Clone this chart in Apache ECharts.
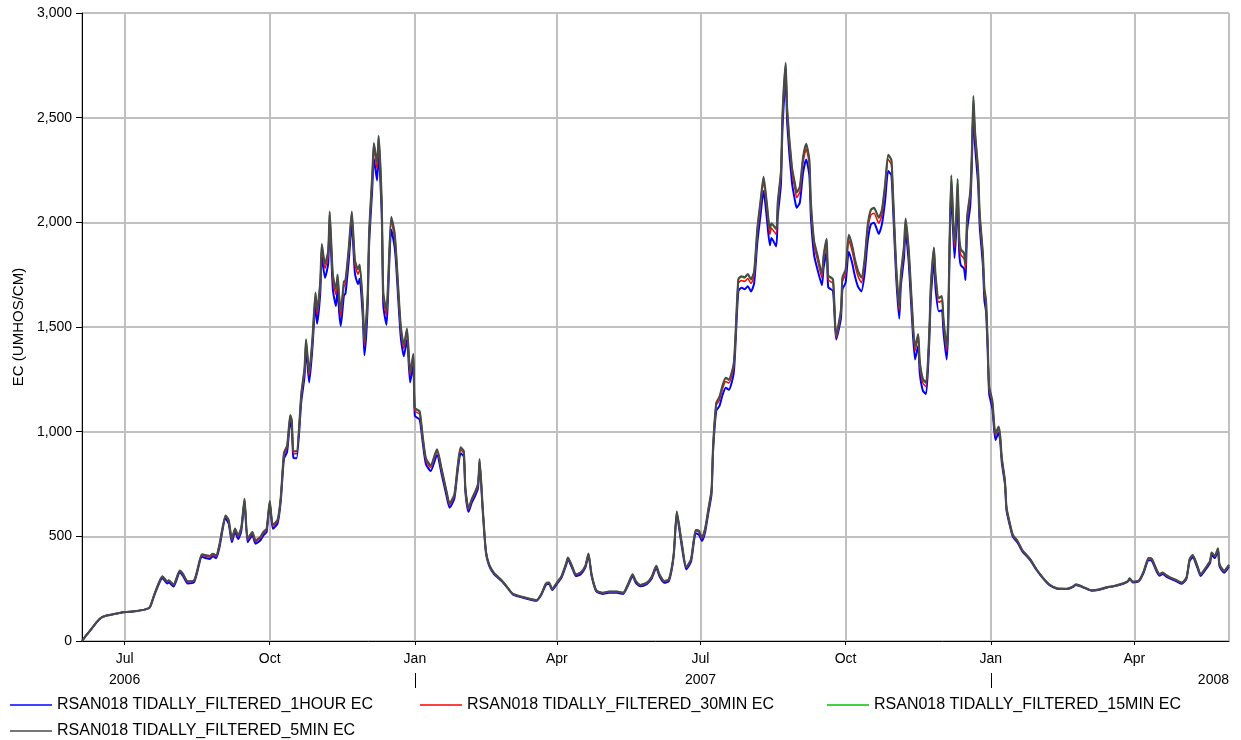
<!DOCTYPE html>
<html><head><meta charset="utf-8">
<script src="https://cdn.jsdelivr.net/npm/echarts@6/dist/echarts.min.js"></script>
<style>html,body{margin:0;padding:0;background:#fff}#c{width:1241px;height:740px}</style>
</head><body><div id="c"></div>
<script>
// ---- data ----
const dataStart = '2006-06-04';      // day 0 of dayOffsets
const axisStart = '2006-06-04';
const axisEnd = '2008-05-31';
const seriesNames = [
  'RSAN018 TIDALLY_FILTERED_1HOUR EC',
  'RSAN018 TIDALLY_FILTERED_30MIN EC',
  'RSAN018 TIDALLY_FILTERED_15MIN EC',
  'RSAN018 TIDALLY_FILTERED_5MIN EC'
];
const monthNames = ['Jan','Feb','Mar','Apr','May','Jun','Jul','Aug','Sep','Oct','Nov','Dec'];
const yearsUnderJuly = [2006, 2007];
const lastYearLabel = '2008';
const yearBoundaries = ['2007-01-01', '2008-01-01'];
const yAxisName = 'EC (UMHOS/CM)';

const dayOffsets = [
0,3,6,9,12,15,19,23,27,34,
40,43,46,51,54,55,58,62,64,67,
71,73,76,79,81,83,85,87,91,93,
95,97,99,101,103,105,108,110,113,115,
117,119,121,124,126,128,130,132,133,134,
136,139,141,142,144,146,148,149,151,152,
154,156,157,159,161,162,163,164,166,167,
169,171,173,175,176,178,179,181,182,184,
185,187,188,190,191,193,194,196,198,199,
202,204,206,208,210,211,214,216,218,221,
225,228,231,233,236,238,240,242,243,245,
247,249,251,252,254,256,258,261,266,269,
273,279,285,288,291,294,296,298,301,304,
307,308,311,313,316,319,321,323,326,330,
334,339,343,346,349,351,354,358,361,364,
366,369,372,375,377,380,383,386,389,391,
393,395,397,399,400,402,404,406,408,410,
413,414,416,418,420,422,424,426,428,430,
432,434,436,437,440,441,443,444,446,447,
450,452,453,455,457,459,461,462,464,466,
469,470,472,473,476,478,481,482,484,486,
488,490,492,494,496,498,500,502,505,507,
509,511,513,514,516,518,519,521,522,524,
526,528,530,531,533,535,537,538,540,541,
543,545,546,548,549,550,551,553,554,555,
556,557,559,560,561,563,564,565,566,568,
569,571,572,573,574,575,577,579,581,582,
583,585,586,588,590,593,596,601,605,609,
613,618,624,628,630,634,640,645,650,654,
660,663,664,666,670,673,676,678,681,683,
685,687,690,694,697,700,702,704,707,709,
713,715,716,718,720,721,724,725,727
];

const ec5min = [
0,30,58,88,111,121,127,133,138,143,
151,162,226,309,285,290,270,337,321,285,
290,337,414,409,406,417,409,457,600,577,
489,537,505,545,680,489,521,481,497,521,
537,669,555,580,690,899,933,1080,1054,907,
907,1183,1303,1441,1286,1441,1665,1579,1717,1897,
1803,1863,2052,1751,1682,1751,1648,1579,1717,1725,
1872,2052,1820,1777,1799,1613,1433,1648,1958,2233,
2379,2285,2414,2095,1665,1579,1717,2027,1958,1872,
1510,1415,1493,1286,1372,1114,1097,976,873,839,
916,821,718,658,701,830,925,907,734,635,
678,710,750,869,638,431,367,327,290,263,
226,211,199,195,223,274,279,250,279,311,
375,399,351,319,327,359,418,319,242,231,
236,236,231,271,319,287,268,279,306,359,
319,287,295,415,619,478,354,391,530,527,
495,540,631,723,935,1138,1166,1221,1258,1249,
1323,1434,1729,1743,1738,1753,1729,1766,1969,2098,
2218,2098,1969,1996,1969,2098,2245,2522,2762,2541,
2264,2181,2144,2172,2310,2375,2301,2098,1913,1849,
1756,1839,1922,1747,1729,1461,1581,1738,1775,1941,
1895,1821,1766,1738,1821,1987,2061,2070,2024,2061,
2181,2323,2300,2150,1803,1598,1751,1889,2018,1872,
1613,1406,1467,1338,1252,1235,1476,1700,1880,1751,
1639,1648,1544,1406,1544,1958,2225,1906,2009,2207,
1940,1872,1854,1803,2027,2147,2336,2603,2440,2250,
2044,1854,1682,1630,1441,1217,1148,990,1025,980,
877,766,638,566,507,478,434,391,343,303,
271,252,250,260,271,260,242,247,258,263,
276,287,300,284,290,335,396,394,343,319,
327,316,303,290,279,303,391,411,359,319,
359,383,423,407,443,367,335,343,364
];

const ec15min = [
0,30,58,88,111,121,127,133,138,143,
151,162,226,309,285,290,270,337,321,285,
290,337,414,409,406,417,409,457,600,577,
489,537,505,545,680,489,521,481,497,521,
537,669,555,580,690,899,933,1078,1052,905,
905,1181,1300,1438,1283,1438,1661,1575,1713,1893,
1799,1859,2048,1747,1678,1747,1644,1575,1713,1721,
1868,2048,1816,1773,1795,1609,1429,1644,1954,2229,
2375,2281,2410,2091,1661,1575,1713,2023,1954,1868,
1506,1411,1489,1282,1368,1111,1094,974,871,837,
914,819,716,656,699,828,923,905,732,634,
677,709,749,868,637,431,367,327,290,263,
226,211,199,195,223,274,279,250,279,311,
375,399,351,319,327,359,418,319,242,231,
236,236,231,271,319,287,268,279,306,359,
319,287,295,415,619,478,354,391,530,527,
495,540,631,722,933,1135,1163,1218,1255,1246,
1320,1431,1725,1739,1734,1749,1725,1762,1965,2094,
2214,2094,1965,1992,1965,2094,2241,2518,2758,2537,
2260,2177,2140,2168,2306,2371,2297,2094,1909,1845,
1752,1835,1918,1743,1725,1458,1578,1734,1771,1937,
1891,1817,1762,1734,1817,1983,2057,2066,2020,2057,
2177,2319,2296,2146,1799,1594,1747,1885,2014,1868,
1609,1402,1463,1334,1248,1231,1472,1696,1876,1747,
1635,1644,1540,1402,1540,1954,2221,1902,2005,2203,
1936,1868,1850,1799,2023,2143,2332,2599,2436,2246,
2040,1850,1678,1626,1437,1214,1145,988,1023,978,
875,765,637,566,507,478,434,391,343,303,
271,252,250,260,271,260,242,247,258,263,
276,287,300,284,290,335,396,394,343,319,
327,316,303,290,279,303,391,411,359,319,
359,383,423,407,443,367,335,343,364
];

const ec30min = [
0,30,58,88,111,121,127,133,138,143,
151,161,225,306,282,287,267,334,318,282,
287,334,410,404,401,412,404,452,594,571,
483,531,499,539,674,483,515,475,491,515,
531,663,548,573,683,889,922,1066,1040,895,
895,1168,1287,1423,1268,1423,1645,1558,1696,1875,
1780,1840,2030,1725,1655,1727,1620,1550,1695,1703,
1850,2030,1797,1752,1775,1590,1410,1625,1935,2208,
2352,2255,2388,2070,1642,1555,1695,2005,1935,1850,
1490,1396,1475,1268,1355,1100,1083,964,862,829,
905,811,709,650,692,820,914,896,725,628,
671,702,742,860,631,428,365,325,289,262,
225,210,198,194,222,272,277,248,277,309,
372,396,348,316,324,356,415,316,240,229,
234,234,229,269,316,284,266,277,303,356,
316,284,292,411,613,472,350,387,525,521,
490,534,624,715,925,1125,1150,1205,1240,1232,
1305,1415,1708,1722,1717,1732,1708,1745,1945,2075,
2195,2072,1942,1972,1942,2073,2220,2495,2740,2515,
2238,2155,2118,2146,2285,2350,2275,2072,1890,1826,
1735,1817,1900,1726,1708,1448,1565,1718,1753,1915,
1868,1795,1740,1712,1797,1962,2035,2043,1996,2035,
2155,2300,2276,2126,1782,1578,1730,1866,1996,1850,
1592,1385,1448,1318,1232,1215,1457,1680,1858,1728,
1618,1625,1522,1385,1522,1935,2200,1880,1985,2182,
1912,1845,1827,1776,2002,2122,2312,2580,2415,2225,
2020,1832,1660,1610,1423,1203,1135,980,1014,970,
868,759,632,561,503,475,432,389,342,302,
270,251,249,259,270,259,241,246,257,262,
275,286,299,283,289,333,393,391,340,317,
325,314,301,288,277,301,388,408,356,317,
356,380,420,404,440,364,332,340,361
];

const ec1hour = [
0,30,58,87,110,120,126,132,137,142,
150,160,222,300,275,280,260,327,311,275,
281,328,402,395,392,405,395,443,585,560,
472,520,487,528,662,472,505,465,480,505,
520,652,536,562,670,870,903,1045,1015,875,
873,1145,1260,1395,1235,1395,1610,1515,1660,1840,
1735,1800,1995,1680,1600,1685,1570,1505,1650,1660,
1810,1990,1755,1705,1730,1545,1365,1585,1895,2165,
2305,2200,2340,2025,1600,1510,1650,1965,1890,1810,
1455,1360,1440,1235,1320,1075,1058,945,845,812,
888,795,695,637,680,805,897,880,712,617,
660,690,730,845,620,422,360,321,286,260,
223,208,196,192,219,268,273,244,272,304,
366,390,342,310,318,350,408,310,236,225,
230,230,225,264,310,278,261,272,297,349,
309,278,286,403,603,460,342,378,515,508,
478,522,612,700,905,1100,1122,1175,1210,1200,
1275,1385,1670,1688,1680,1695,1670,1708,1900,2030,
2150,2025,1890,1925,1885,2030,2180,2450,2700,2470,
2190,2100,2070,2095,2235,2300,2225,2025,1845,1780,
1700,1780,1860,1690,1672,1440,1540,1680,1712,1860,
1810,1740,1690,1670,1752,1910,1990,1998,1945,1990,
2100,2245,2225,2080,1745,1540,1695,1830,1960,1810,
1550,1345,1410,1280,1195,1180,1425,1640,1815,1685,
1575,1580,1480,1345,1485,1895,2160,1830,1945,2140,
1860,1795,1780,1725,1960,2080,2270,2540,2370,2180,
1980,1795,1625,1575,1395,1180,1110,960,995,952,
852,748,623,554,497,470,428,386,339,300,
268,250,248,258,268,258,240,245,256,261,
273,284,296,280,286,328,386,384,334,312,
320,309,297,284,273,296,381,400,349,311,
350,373,412,396,432,357,326,334,355
];

const seriesValues = [ec1hour, ec30min, ec15min, ec5min];
const seriesColors = ['#0000ff', '#ff0000', '#00c000', '#4a4a4a'];
const seriesWidths = [2, 1.5, 1.5, 2];

// ---- helpers ----
function ymd(s) { const p = s.split('-').map(Number); return new Date(p[0], p[1] - 1, p[2]).getTime(); }
const base = dataStart.split('-').map(Number);
function dayToTime(d) { return new Date(base[0], base[1] - 1, base[2] + d).getTime(); }
function pairs(vals) { return dayOffsets.map((d, i) => [dayToTime(d), vals[i]]); }

const FONT = "'Liberation Sans', Arial, sans-serif";
const chart = echarts.init(document.getElementById('c'), null, { renderer: 'canvas' });

const legendPos = [
  { left: 10, top: 697 }, { left: 420, top: 697 }, { left: 827, top: 697 }, { left: 10, top: 723 }
];

const option = {
  animation: false,
  backgroundColor: '#ffffff',
  textStyle: { fontFamily: FONT },
  grid: { left: 82, right: 12, top: 13, bottom: 99, show: true, borderColor: '#000', borderWidth: 1, outerBoundsMode: 'none', containLabel: false },
  xAxis: {
    type: 'time',
    min: ymd(axisStart), max: ymd(axisEnd),
    splitNumber: 8,
    axisLine: { lineStyle: { color: '#000', width: 1 } },
    axisTick: { show: true, length: 4, lineStyle: { color: '#000' } },
    splitLine: { show: true, lineStyle: { color: '#c0c0c0', width: 2 } },
    axisLabel: {
      showMinLabel: false, showMaxLabel: false, hideOverlap: false,
      margin: 8, color: '#000', fontSize: 14, fontFamily: FONT,
      formatter: function (v) {
        const d = new Date(v);
        if (d.getDate() !== 1 || d.getHours() !== 0) return '';
        const m = d.getMonth();
        if (m % 3 !== 0) return '';
        let s = '{m|' + monthNames[m] + '}';
        if (m === 6 && yearsUnderJuly.indexOf(d.getFullYear()) >= 0) s += '\n{y|' + d.getFullYear() + '}';
        return s;
      },
      rich: {
        m: { fontSize: 14, lineHeight: 21, color: '#000', fontFamily: FONT },
        y: { fontSize: 14, lineHeight: 21, color: '#000', fontFamily: FONT }
      }
    }
  },
  yAxis: {
    type: 'value', min: 0, max: 3000, interval: 500,
    name: yAxisName, nameLocation: 'middle', nameGap: 54, nameRotate: 90,
    nameTextStyle: { fontSize: 15, color: '#000', fontFamily: FONT },
    axisLine: { show: true, lineStyle: { color: '#000', width: 1 } },
    axisTick: { show: true, length: 6, lineStyle: { color: '#000' } },
    axisLabel: { margin: 10, color: '#000', fontSize: 14, fontFamily: FONT, formatter: v => v.toLocaleString('en-US') },
    splitLine: { show: true, lineStyle: { color: '#c0c0c0', width: 2 } }
  },
  legend: seriesNames.map((n, i) => ({
    data: [n], left: legendPos[i].left, top: legendPos[i].top, padding: 0,
    icon: 'rect', itemWidth: 42, itemHeight: 1.5, selectedMode: false,
    textStyle: { fontSize: 16, color: '#000', fontFamily: FONT }
  })),
  series: seriesNames.map((n, i) => ({
    type: 'line', name: n, data: pairs(seriesValues[i]),
    symbol: 'none', showSymbol: false, smooth: 0.2,
    lineStyle: { color: seriesColors[i], width: seriesWidths[i] },
    itemStyle: { color: seriesColors[i] },
    z: 2 + i
  }))
};
chart.setOption(option);

// year separators and the trailing year label, positioned through the axis scales
const gb = chart.convertToPixel({ yAxisIndex: 0 }, 0);
const xr = chart.convertToPixel({ xAxisIndex: 0 }, ymd(axisEnd));
const els = yearBoundaries.map(s => {
  const px = Math.round(chart.convertToPixel({ xAxisIndex: 0 }, ymd(s))) + 0.5;
  return { type: 'line', silent: true, shape: { x1: px, y1: gb + 32, x2: px, y2: gb + 47 }, style: { stroke: '#000', lineWidth: 1 } };
});
els.push({ type: 'text', silent: true, x: xr, y: gb + 39.5, style: { text: lastYearLabel, align: 'right', verticalAlign: 'middle', font: '14px ' + FONT, fill: '#000' } });
chart.setOption({ graphic: els });
</script>
</body></html>
